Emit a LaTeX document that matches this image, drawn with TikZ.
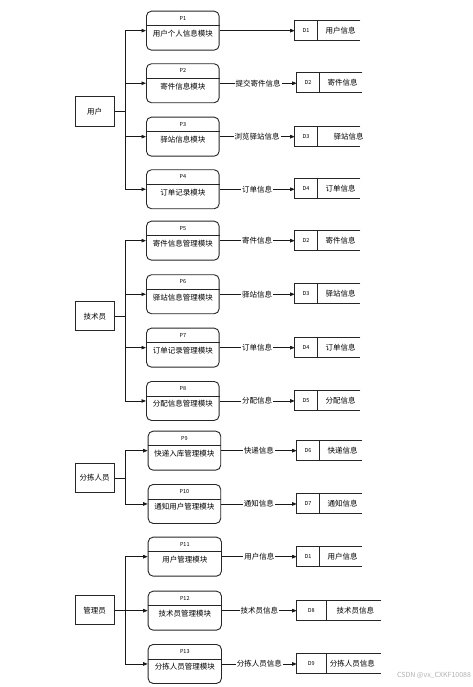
\documentclass[tikz,border=0pt]{standalone}
\usepackage{fontspec}
\setmainfont{Noto Sans CJK SC}
\usetikzlibrary{arrows.meta}
\tikzset{
  boxline/.style={draw=black!85, line width=0.9pt},
  actor/.style={boxline, minimum width=38.7pt, minimum height=29.3pt, inner sep=0pt, font=\fontsize{7.5}{8}\selectfont},
  pshape/.style={boxline, rounded corners=5pt, minimum height=39pt, inner sep=0pt, anchor=north west},
  plabel/.style={font=\fontsize{5.5}{6}\selectfont, inner sep=0pt},
  ptext/.style={font=\fontsize{7.5}{8}\selectfont, inner sep=0pt},
  dshape/.style={minimum height=19.5pt, inner sep=0pt, anchor=west},
  trunk/.style={draw=black!90, line width=0.8pt},
  flow/.style={draw=black!90, line width=0.8pt, -{Triangle[length=4.5pt,width=3.5pt]}},
  lab/.style={fill=white, inner sep=1pt, font=\fontsize{7.5}{8}\selectfont}
}
% name, x, ytop, width, label, text
\newcommand\mkproc[6]{%
  \node[pshape, minimum width=#4pt] (#1) at (#2,#3) {};
  \draw[boxline] ([yshift=-15pt]#1.north west) -- ([yshift=-15pt]#1.north east);
  \node[plabel] (#1l) at ([yshift=-7.5pt]#1.north) {#5};
  \node[ptext] (#1t) at ([yshift=-23pt]#1.north) {#6};
}
% name, x, ycenter, width, divider, id, text, text shift
\newcommand\mkstore[8]{%
  \node[dshape, minimum width=#4pt] (#1) at (#2,#3) {};
  \draw[boxline] (#1.north east) -- (#1.north west) -- (#1.south west) -- (#1.south east);
  \draw[boxline] ([xshift=#5pt]#1.north west) -- ([xshift=#5pt]#1.south west);
  \node[plabel] (#1i) at ([xshift={#5/2}]#1.west) {#6};
  \node[ptext] (#1t) at ([xshift={(#4+#5)/2+#8}]#1.west) {#7};
}
\begin{document}
\begin{tikzpicture}[x=1pt,y=-1pt]
\fill[white] (0,0) rectangle (472,687);
\useasboundingbox (0,0) rectangle (472,687);
\coordinate (tx) at (125.7,0);

% ---------- 用户 ----------
\node[actor] (a1) at (94.7,111.4) {用户};
\mkproc{p1}{146}{10.7}{72.7}{P1}{用户个人信息模块}
\mkproc{p2}{146}{63.3}{72.7}{P2}{寄件信息模块}
\mkproc{p3}{146}{116.7}{72.7}{P3}{驿站信息模块}
\mkproc{p4}{146}{169.3}{72.7}{P4}{订单记录模块}
\mkstore{d1a}{294.7}{30.2}{65.3}{22.6}{D1}{用户信息}{2}
\mkstore{d2a}{296.7}{82.8}{65.3}{22.6}{D2}{寄件信息}{2}
\mkstore{d3a}{294.7}{136.2}{65.3}{22.6}{D3}{驿站信息}{10}
\mkstore{d4a}{294.7}{188.8}{65.3}{22.6}{D4}{订单信息}{2}
\draw[trunk] (a1.east) -- (a1.east -| tx);
\foreach \p in {p1,p2,p3,p4} \draw[flow] (a1.east -| tx) |- (\p.west);
\draw[flow] (p1.east) -- (p1.east -| d1a.west);
\draw[flow] (p2.east) -- node[lab] (l2) {提交寄件信息} (p2.east -| d2a.west);
\draw[flow] (p3.east) -- node[lab] (l3) {浏览驿站信息} (p3.east -| d3a.west);
\draw[flow] (p4.east) -- node[lab] (l4) {订单信息} (p4.east -| d4a.west);

% ---------- 技术员 ----------
\node[actor] (a2) at (94.8,316.2) {技术员};
\mkproc{p5}{146}{220.7}{72.7}{P5}{寄件信息管理模块}
\mkproc{p6}{146}{274.3}{72.7}{P6}{驿站信息管理模块}
\mkproc{p7}{146}{327.7}{72.7}{P7}{订单记录管理模块}
\mkproc{p8}{146}{381}{72.7}{P8}{分配信息管理模块}
\mkstore{d2b}{294.7}{240.2}{65.3}{22.6}{D2}{寄件信息}{2}
\mkstore{d3b}{294.7}{293.8}{65.3}{22.6}{D3}{驿站信息}{2}
\mkstore{d4b}{294.7}{347.2}{65.3}{22.6}{D4}{订单信息}{2}
\mkstore{d5}{294.7}{400.5}{65.3}{22.6}{D5}{分配信息}{2}
\draw[trunk] (a2.east) -- (a2.east -| tx);
\foreach \p in {p5,p6,p7,p8} \draw[flow] (a2.east -| tx) |- (\p.west);
\draw[flow] (p5.east) -- node[lab] (l5) {寄件信息} (p5.east -| d2b.west);
\draw[flow] (p6.east) -- node[lab] (l6) {驿站信息} (p6.east -| d3b.west);
\draw[flow] (p7.east) -- node[lab] (l7) {订单信息} (p7.east -| d4b.west);
\draw[flow] (p8.east) -- node[lab] (l8) {分配信息} (p8.east -| d5.west);

% ---------- 分拣人员 ----------
\node[actor] (a3) at (94.7,478) {分拣人员};
\mkproc{p9}{147.7}{430.7}{72.6}{P9}{快递入库管理模块}
\mkproc{p10}{147.7}{484}{72.6}{P10}{通知用户管理模块}
\mkstore{d6}{296.7}{450.2}{65}{22.6}{D6}{快递信息}{2}
\mkstore{d7}{296.7}{503.5}{65}{22.6}{D7}{通知信息}{2}
\draw[trunk] (a3.east) -- (a3.east -| tx);
\foreach \p in {p9,p10} \draw[flow] (a3.east -| tx) |- (\p.west);
\draw[flow] (p9.east) -- node[lab] (l9) {快递信息} (p9.east -| d6.west);
\draw[flow] (p10.east) -- node[lab] (l10) {通知信息} (p10.east -| d7.west);

% ---------- 管理员 ----------
\node[actor] (a4) at (94.7,610.2) {管理员};
\mkproc{p11}{147.7}{536.7}{73.3}{P11}{用户管理模块}
\mkproc{p12}{147.7}{590.7}{73.3}{P12}{技术员管理模块}
\mkproc{p13}{147.7}{644}{73.3}{P13}{分拣人员管理模块}
\mkstore{d1b}{296.7}{556.2}{65}{22.6}{D1}{用户信息}{2}
\mkstore{d8}{296.7}{610.2}{84}{29.3}{D8}{技术员信息}{2}
\mkstore{d9}{296.7}{663.5}{84}{29.3}{D9}{分拣人员信息}{-1}
\draw[trunk] (a4.east) -- (a4.east -| tx);
\foreach \p in {p11,p12,p13} \draw[flow] (a4.east -| tx) |- (\p.west);
\draw[flow] (p11.east) -- node[lab] (l11) {用户信息} (p11.east -| d1b.west);
\draw[flow] (p12.east) -- node[lab] (l12) {技术员信息} (p12.east -| d8.west);
\draw[flow] (p13.east) -- node[lab] (l13) {分拣人员信息} (p13.east -| d9.west);

\node[font=\fontsize{7}{8}\selectfont, text=black!30, inner sep=0pt] (wm) at (434,675.5) {CSDN @vx\_CXKF10088};
\end{tikzpicture}
\end{document}
